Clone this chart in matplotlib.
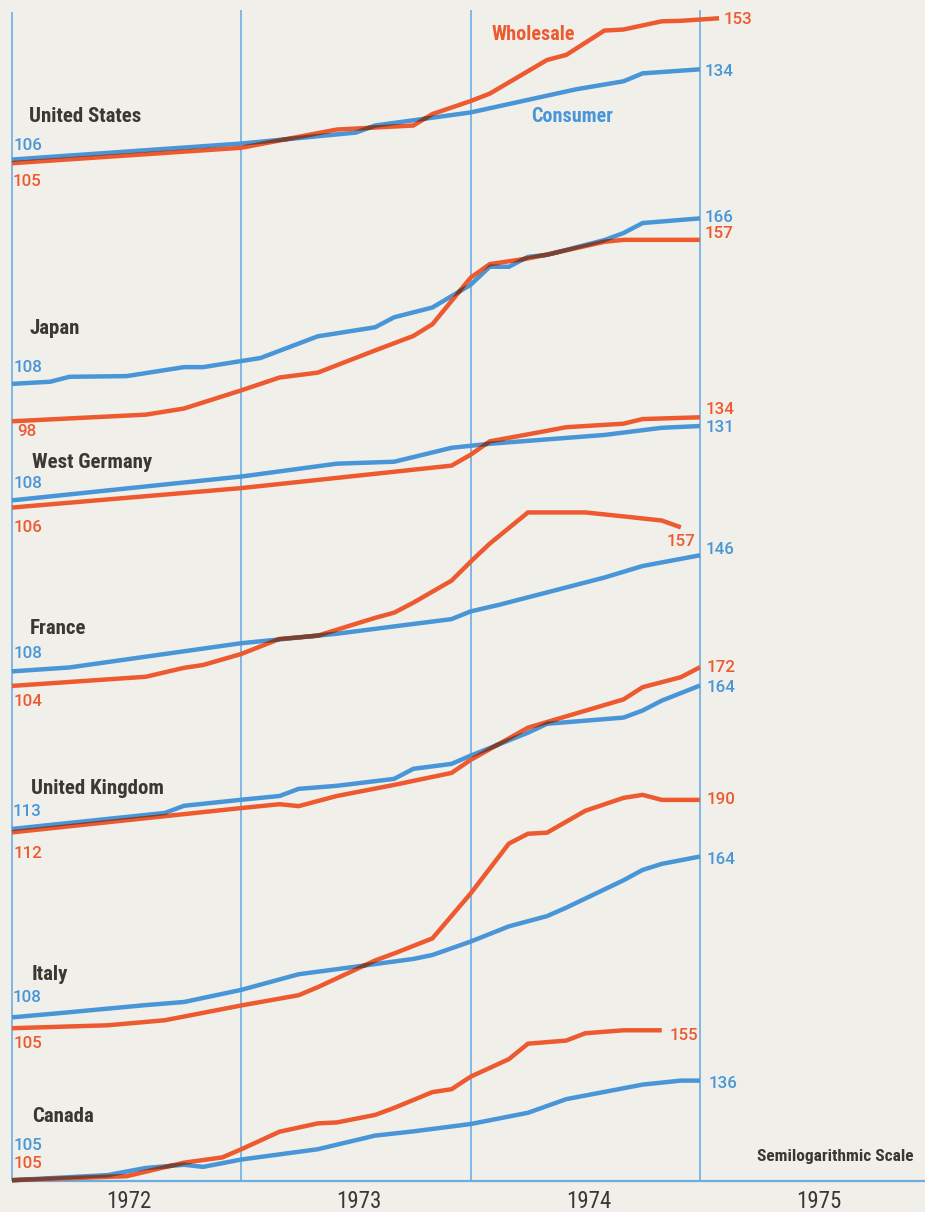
import numpy as np
import matplotlib.pyplot as plt
from matplotlib.collections import LineCollection

# index readings (1970 = 100), x = months from January 1972
us_c_m = [0, 12, 18, 19, 24, 29.5, 32, 33, 36]
us_c = [106, 110.5, 113.7, 115.8, 119.8, 127.2, 129.9, 132.6, 134]
us_w_m = [0, 12, 17, 21, 22, 24, 25, 28, 29, 31, 32, 34, 35, 37]
us_w = [105, 109.3, 114.6, 115.8, 119.3, 123.4, 125.8, 137.3, 139.1, 148.2, 148.6, 151.8, 152.0, 153]

jp_c_m = [0, 2, 3, 6, 9, 10, 12, 13, 16, 19, 20, 22, 24, 25, 26, 27, 28, 31, 32, 33, 34.5, 36]
jp_c = [108, 108.6, 110.0, 110.2, 112.8, 112.8, 114.6, 115.5, 122.2, 125.1, 128.4, 131.7,
        139.7, 146.4, 146.4, 150.2, 151.0, 156.9, 159.8, 164.0, 165.0, 166]
jp_w_m = [0, 7, 9, 12, 14, 16, 19, 21, 22, 24, 25, 27, 28, 31, 32, 36]
jp_w = [98, 99.7, 101.3, 106.2, 109.8, 111.2, 117.8, 122.3, 126.1, 142.3, 147.4, 149.6,
        151.1, 156.2, 157, 157]

de_c_m = [0, 12, 17, 20, 23, 25, 31, 34, 36]
de_c = [108, 114.9, 118.8, 119.4, 123.8, 125.1, 128.0, 130.4, 131]
de_w_m = [0, 12, 23, 24, 25, 27, 29, 32, 33, 36]
de_w = [106, 111.5, 118.2, 121.6, 125.9, 128.2, 130.6, 131.8, 133.4, 134]

fr_c_m = [0, 3, 12, 17, 23, 24, 25.5, 31, 33, 36]
fr_c = [108, 109.1, 116.2, 119.1, 123.7, 126.2, 128.4, 137.8, 142.0, 146]
fr_w_m = [0, 7, 9, 10, 12, 14, 16, 19, 20, 21, 23, 24, 25, 27, 30, 32.5, 34, 35]
fr_w = [104, 106.5, 109.0, 109.8, 113.0, 117.5, 118.5, 124.1, 125.8, 129.1, 136.7, 143.6,
        150.5, 163.2, 163.2, 161.1, 159.8, 157]

uk_c_m = [0, 8, 9, 12, 14, 15, 17, 20, 21, 23, 24, 27, 28, 32, 33, 34, 36]
uk_c = [113, 117.8, 120.0, 121.9, 123.1, 125.4, 126.4, 128.7, 132.1, 133.8, 136.7, 145.1,
        148.5, 150.9, 153.7, 157.7, 164]
uk_w_m = [0, 12, 14, 15, 17, 20, 23, 24, 27, 32, 33, 35, 36]
uk_w = [112, 119.3, 120.5, 119.9, 123.1, 126.7, 130.7, 135.2, 147.0, 158.2, 163.3, 167.6, 172]

it_c_m = [0, 2.5, 7, 9, 12, 15, 17, 21, 22, 24, 26, 28, 29, 32, 33, 34, 36]
it_c = [108, 109.2, 111.5, 112.4, 116.0, 120.8, 122.4, 125.7, 127.0, 131.5, 136.8, 140.5,
        143.6, 154.2, 158.4, 160.9, 164]
it_w_m = [0, 5, 8, 12, 15, 16, 19, 20, 22, 24, 26, 27, 28, 30, 32, 33, 34, 36]
it_w = [105, 105.8, 107.2, 111.4, 114.4, 116.8, 125.2, 127.5, 132.6, 149.0, 169.6, 174.0,
        174.5, 184.7, 191.0, 192.5, 190, 190]

ca_c_m = [0, 5, 7, 9, 10, 12, 16, 19, 21, 24, 27, 29, 33, 35, 36]
ca_c = [105, 106.4, 108.4, 109.3, 108.7, 110.8, 113.8, 117.9, 119.2, 121.5, 125.1, 129.6,
        134.6, 136, 136]
ca_w_m = [0, 6, 9, 11, 12, 14, 16, 17, 19, 20, 22, 23, 24, 26, 27, 29, 30, 32, 34]
ca_w = [105, 106.1, 109.9, 111.4, 113.8, 119.1, 121.7, 122.0, 124.4, 126.7, 132.0, 133.0,
        137.4, 143.8, 149.7, 150.9, 153.8, 155, 155]

years = ['1972', '1973', '1974', '1975']

RED = '#ee5a30'
BLUE = '#4896d8'
GRID = '#6cade2'
DARK = '#3a3835'
INK = '#4d3b36'   # where the two inks overprint
BG = '#f0efea'
COND = ['Roboto Condensed', 'DejaVu Sans']
NUMS = ['Roboto', 'DejaVu Sans']
K = 385.0      # pixels per natural-log unit
PXM = 19.11    # pixels per month
LW = 3.2

# name, baseline pixel of index 100, series
countries = [
    ('United States', 182, us_c_m, us_c, us_w_m, us_w),
    ('Japan', 413.5, jp_c_m, jp_c, jp_w_m, jp_w),
    ('West Germany', 530, de_c_m, de_c, de_w_m, de_w),
    ('France', 701, fr_c_m, fr_c, fr_w_m, fr_w),
    ('United Kingdom', 876, uk_c_m, uk_c, uk_w_m, uk_w),
    ('Italy', 1047, it_c_m, it_c, it_w_m, it_w),
    ('Canada', 1199, ca_c_m, ca_c, ca_w_m, ca_w),
]

fig = plt.figure(figsize=(9.25, 12.12), dpi=100, facecolor=BG)
ax = fig.add_axes([0, 0, 1, 1])
ax.set_xlim(-12 / PXM, 913 / PXM)
ax.set_ylim(1212, 0)
ax.axis('off')

ax.vlines(0, 12, 1181, color=GRID, lw=1.2)
ax.vlines([12, 24, 36], 10, 1181, color=GRID, lw=1.2)
ax.hlines(1181, 0, 913 / PXM, color=GRID, lw=1.6)

for name, base, cm, cv, wm, wv in countries:
    yc = base - K * np.log(np.array(cv) / 100)
    yw = base - K * np.log(np.array(wv) / 100)
    ax.plot(cm, yc, color=BLUE, lw=LW, solid_joinstyle='miter', solid_capstyle='butt')
    ax.plot(wm, yw, color=RED, lw=LW, solid_joinstyle='miter', solid_capstyle='butt')

    # darker band where the two lines overprint
    xs = np.linspace(0, min(cm[-1], wm[-1]), 1500)
    a = np.interp(xs, cm, yc)
    b = np.interp(xs, wm, yw)
    w = LW / 0.72 - np.abs(a - b)
    mid = (a + b) / 2
    segs, widths = [], []
    for i in range(len(xs) - 1):
        if w[i] > 0.3:
            segs.append([(xs[i], mid[i]), (xs[i + 1], mid[i + 1])])
            widths.append(w[i] * 0.72)
    if segs:
        ax.add_collection(LineCollection(segs, linewidths=widths, colors=INK, capstyle='butt'))

# text layer in pixel coordinates
tx = fig.add_axes([0, 0, 1, 1])
tx.set_xlim(0, 925)
tx.set_ylim(1212, 0)
tx.axis('off')
tx.patch.set_alpha(0)

def label(x, y, s, c, size=15, weight='bold', ha='left', family=COND):
    tx.text(x, y, s, color=c, fontsize=size, fontweight=weight, ha=ha, va='center',
            family=family, fontstretch='condensed' if family is COND else 'normal')

def num(x, y, s, c, ha='left'):
    label(x, y, s, c, size=12.2, weight='medium', ha=ha, family=NUMS)

names_xy = [(29, 117), (30, 328), (32, 463), (30, 628), (31, 789), (32, 975), (32, 1117)]
for (x, y), c in zip(names_xy, countries):
    label(x, y, c[0], DARK)

# start values
num(14, 145, '106', BLUE)
num(13, 181, '105', RED)
num(14, 367, '108', BLUE)
num(17, 432, '98', RED)
num(14, 484, '108', BLUE)
num(14, 527, '106', RED)
num(14, 653, '108', BLUE)
num(14, 702, '104', RED)
num(13, 812, '113', BLUE)
num(14, 854, '112', RED)
num(13, 998, '108', BLUE)
num(14, 1044, '105', RED)
num(14, 1146, '105', BLUE)
num(14, 1163, '105', RED)

# end values
num(724, 20, '153', RED)
num(705, 72, '134', BLUE)
num(705, 217, '166', BLUE)
num(705, 234, '157', RED)
num(706, 410, '134', RED)
num(706, 427, '131', BLUE)
num(695, 542, '157', RED, ha='right')
num(706, 550, '146', BLUE)
num(707, 667, '172', RED)
num(707, 687, '164', BLUE)
num(707, 799, '190', RED)
num(707, 860, '164', BLUE)
num(670, 1035, '155', RED)
num(709, 1084, '136', BLUE)

label(492, 35, 'Wholesale', RED, size=14.5)
label(531, 117, 'Consumer', BLUE, size=14.5)
label(757, 1157, 'Semilogarithmic Scale', DARK, size=12.5)

for i, yr in enumerate(years):
    label(129 + 230 * i, 1202, yr, DARK, size=16.5, weight='normal', ha='center')

fig.savefig('out.png', dpi=100, facecolor=BG)
